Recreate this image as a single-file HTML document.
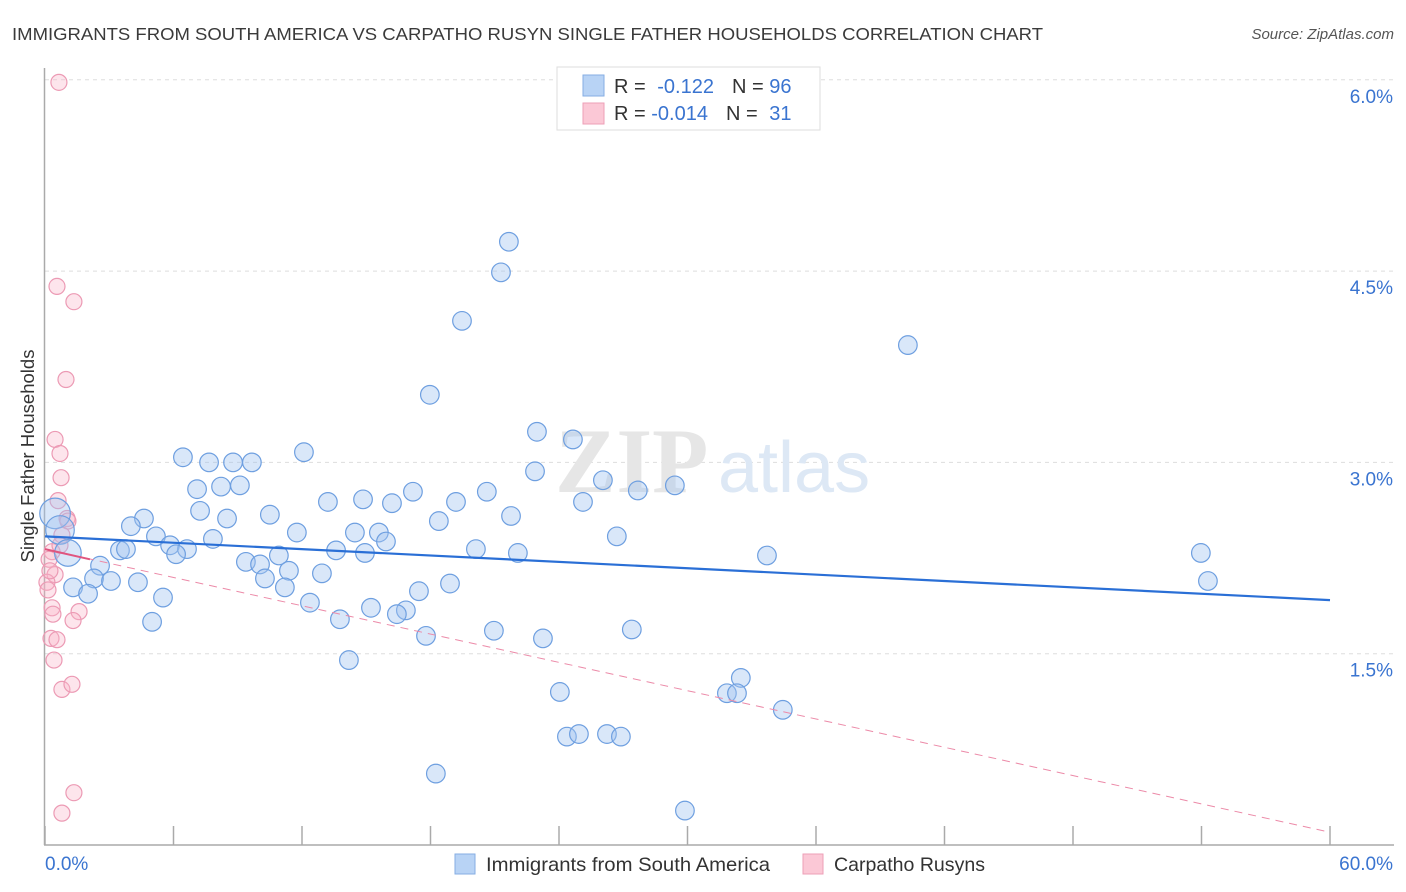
<!DOCTYPE html>
<html><head><meta charset="utf-8">
<style>
body{margin:0;background:#fff;font-family:"Liberation Sans",sans-serif;}
#wrap{position:relative;width:1406px;height:892px;overflow:hidden;}
</style></head>
<body>
<div id="wrap">
<svg id="svg" width="1406" height="892">
<text x="12" y="40" font-size="17.5" fill="#3a3a3a" textLength="1031" lengthAdjust="spacingAndGlyphs">IMMIGRANTS FROM SOUTH AMERICA VS CARPATHO RUSYN SINGLE FATHER HOUSEHOLDS CORRELATION CHART</text>
<text x="1394" y="39" font-size="15" fill="#555" font-style="italic" text-anchor="end">Source: ZipAtlas.com</text>
<g id="grid"></g>
<text x="555" y="492" font-size="92" fill="#e6e6e6" font-family="Liberation Serif" font-weight="bold">ZIP</text>
<text x="718" y="492" font-size="72" fill="#dde8f5">atlas</text>
<g id="axes"></g>
<g id="pts"></g>
<g id="trends"></g>
<text transform="translate(34,456) rotate(-90)" font-size="18.5" fill="#333" text-anchor="middle">Single Father Households</text>
<g>
<rect x="557" y="67" width="263" height="63" fill="#fff" stroke="#ddd"/>
<rect x="583" y="75" width="21" height="21" fill="#b8d3f5" stroke="#86aee3"/>
<rect x="583" y="103" width="21" height="21" fill="#fbc8d6" stroke="#ee9fb7"/>
<text x="614" y="93" font-size="20" fill="#333">R = <tspan fill="#3a74d0" dx="6">-0.122</tspan><tspan dx="18" fill="#333">N = </tspan><tspan fill="#3a74d0">96</tspan></text>
<text x="614" y="120" font-size="20" fill="#333">R = <tspan fill="#3a74d0">-0.014</tspan><tspan dx="18" fill="#333">N = </tspan><tspan fill="#3a74d0" dx="6">31</tspan></text>
</g>
<g>
<rect x="455" y="854" width="20" height="20" fill="#b8d3f5" stroke="#86aee3"/>
<text x="486" y="871" font-size="19.5" fill="#333" textLength="284" lengthAdjust="spacingAndGlyphs">Immigrants from South America</text>
<rect x="803" y="854" width="20" height="20" fill="#fbc8d6" stroke="#ee9fb7"/>
<text x="834" y="871" font-size="19.5" fill="#333" textLength="151" lengthAdjust="spacingAndGlyphs">Carpatho Rusyns</text>
</g>
</svg>
</div>
<script>
const blueX=[21.66,21.29,19.47,40.29,17.97,22.97,24.65,12.09,6.44,7.66,8.78,9.66,22.88,26.05,29.41,9.10,8.22,7.10,27.68,17.18,20.63,13.21,14.85,16.20,19.19,7.24,4.62,10.50,8.50,18.39,21.76,25.12,4.01,11.76,5.18,14.47,15.59,26.70,15.92,7.84,5.84,6.63,6.12,13.59,14.94,20.12,22.08,33.71,53.97,3.50,3.78,10.92,9.38,10.04,11.39,12.93,2.57,2.29,4.34,3.08,10.27,54.30,1.31,2.01,18.91,17.46,11.20,5.51,12.37,15.22,16.85,16.43,13.77,5.00,20.96,17.79,27.40,23.25,14.19,32.49,24.04,31.84,32.31,34.45,24.37,24.93,26.24,26.89,18.25,29.88,0.47,0.70,1.07];
const blueY=[4.73,4.49,4.11,3.92,3.53,3.24,3.18,3.08,3.04,3.00,3.00,3.00,2.93,2.86,2.82,2.82,2.81,2.79,2.78,2.77,2.77,2.69,2.71,2.68,2.69,2.62,2.56,2.59,2.56,2.54,2.58,2.69,2.50,2.45,2.42,2.45,2.45,2.42,2.38,2.40,2.35,2.32,2.28,2.31,2.29,2.32,2.29,2.27,2.29,2.31,2.32,2.27,2.22,2.20,2.15,2.13,2.19,2.09,2.06,2.07,2.09,2.07,2.02,1.97,2.05,1.99,2.02,1.94,1.90,1.86,1.84,1.81,1.77,1.75,1.68,1.64,1.69,1.62,1.45,1.31,1.20,1.19,1.19,1.06,0.85,0.87,0.87,0.85,0.56,0.27,2.60,2.47,2.29];
const blueR=[9,9,9,9,9,9,9,9,9,9,9,9,9,9,9,9,9,9,9,9,9,9,9,9,9,9,9,9,9,9,9,9,9,9,9,9,9,9,9,9,9,9,9,9,9,9,9,9,9,9,9,9,9,9,9,9,9,9,9,9,9,9,9,9,9,9,9,9,9,9,9,9,9,9,9,9,9,9,9,9,9,9,9,9,9,9,9,9,9,9,15,14,13];
const pinkX=[0.65,0.56,1.35,0.98,0.47,0.70,0.75,0.61,1.03,1.07,0.79,0.33,0.19,0.47,0.09,0.23,0.14,0.33,0.37,1.59,1.31,0.28,0.56,0.42,0.79,1.26,1.35,0.79,0.70];
const pinkY=[5.98,4.38,4.26,3.65,3.18,3.07,2.88,2.70,2.56,2.54,2.43,2.30,2.24,2.12,2.06,2.15,2.00,1.86,1.81,1.83,1.76,1.62,1.61,1.45,1.22,1.26,0.41,0.25,2.35];
const yTicks=[1.5,3.0,4.5,6.0];
const yTickLabels=["1.5%","3.0%","4.5%","6.0%"];
const xTicks=[0,6,12,18,24,30,36,42,48,54,60];
const blueTrend=[[0,2.42],[60,1.92]];
const pinkTrendSolid=[[0,2.32],[2.1,2.24]];
const pinkTrendDash=[[0,2.32],[60,0.10]];

const NS="http://www.w3.org/2000/svg";
const X=v=>45+v*(1285/60);
const Y=v=>845-v*(191.3/1.5);
function mk(tag,attrs,parent){const e=document.createElementNS(NS,tag);for(const k in attrs)e.setAttribute(k,attrs[k]);document.getElementById(parent).appendChild(e);return e;}
yTicks.forEach((t,i)=>{
 const l=mk('line',{x1:45,x2:1394,y1:Y(t),y2:Y(t),stroke:'#ddd','stroke-dasharray':'4,4'},'grid');
 
 
 const tx=mk('text',{x:1393,y:Y(t)+23,'font-size':19,fill:'#3a74d0','text-anchor':'end'},'grid');
 tx.textContent=yTickLabels[i];
 
 
});
const ax=mk('line',{x1:44.5,x2:44.5,y1:68,y2:845,stroke:'#aaa','stroke-width':1.5},'axes');


const bx=mk('line',{x1:44,x2:1394,y1:845,y2:845,stroke:'#aaa','stroke-width':1.5},'axes');


xTicks.forEach(t=>{
 const l=mk('line',{x1:X(t),x2:X(t),y1:826,y2:845,stroke:'#aaa','stroke-width':1.5},'axes');
 
 
});
const xl0=mk('text',{x:45,y:870,'font-size':19,fill:'#3a74d0'},'axes');xl0.textContent='0.0%';


const xl1=mk('text',{x:1393,y:870,'font-size':19,fill:'#3a74d0','text-anchor':'end'},'axes');xl1.textContent='60.0%';


pinkX.forEach((v,i)=>{
 const c=mk('circle',{cx:X(v),cy:Y(pinkY[i]),r:8,fill:'rgba(248,180,200,0.35)',stroke:'#ec9ab4','stroke-width':1.2},'pts');
 
 
});
blueX.forEach((v,i)=>{
 const c=mk('circle',{cx:X(v),cy:Y(blueY[i]),r:blueR[i]+0.3,fill:'rgba(160,196,240,0.4)',stroke:'#6e9fe0','stroke-width':1.2},'pts');
 
 
});
const t1=mk('line',{x1:X(blueTrend[0][0]),y1:Y(blueTrend[0][1]),x2:X(blueTrend[1][0]),y2:Y(blueTrend[1][1]),stroke:'#2a6fd6','stroke-width':2.2},'trends');


const t2=mk('line',{x1:X(pinkTrendDash[0][0]),y1:Y(pinkTrendDash[0][1]),x2:X(pinkTrendDash[1][0]),y2:Y(pinkTrendDash[1][1]),stroke:'#ec8aa8','stroke-width':1,'stroke-dasharray':'8,6'},'trends');


const t3=mk('line',{x1:X(pinkTrendSolid[0][0]),y1:Y(pinkTrendSolid[0][1]),x2:X(pinkTrendSolid[1][0]),y2:Y(pinkTrendSolid[1][1]),stroke:'#e0557f','stroke-width':2},'trends');


</script>
</body></html>
